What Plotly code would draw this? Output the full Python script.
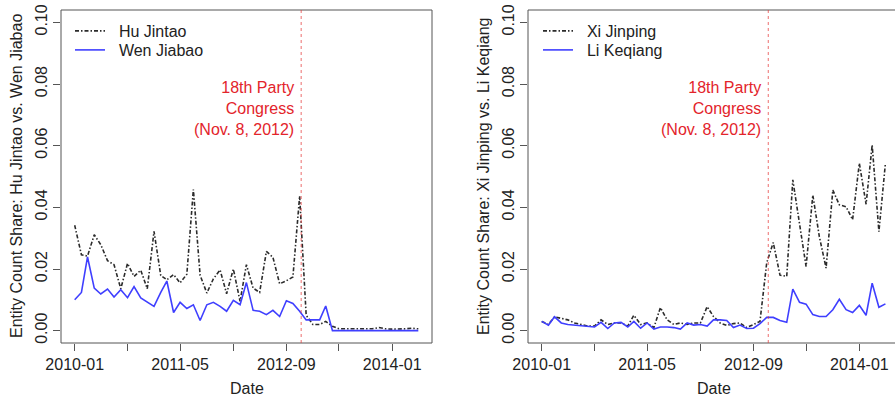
import pandas as pd
import plotly.graph_objects as go

# ---------------- data ----------------
dates = pd.date_range("2010-01-01", periods=53, freq="MS")

hu_jintao = [0.0342, 0.0246, 0.0242, 0.0311, 0.0279, 0.0227, 0.0214, 0.0136, 0.0218, 0.0176,
             0.0196, 0.0136, 0.0322, 0.0179, 0.0165, 0.0182, 0.0155, 0.0183, 0.0458, 0.0180,
             0.0122, 0.0168, 0.0197, 0.0120, 0.0200, 0.0095, 0.0214, 0.0138, 0.0124, 0.0257,
             0.0238, 0.0152, 0.0162, 0.0174, 0.0437, 0.0050, 0.0020, 0.0020, 0.0030, 0.0014,
             0.0006, 0.0006, 0.0006, 0.0005, 0.0005, 0.0006, 0.0010, 0.0006, 0.0005, 0.0005,
             0.0006, 0.0008, 0.0006]
wen_jiabao = [0.0100, 0.0124, 0.0239, 0.0138, 0.0119, 0.0135, 0.0109, 0.0133, 0.0107, 0.0143,
              0.0106, 0.0092, 0.0079, 0.0124, 0.0161, 0.0059, 0.0092, 0.0072, 0.0084, 0.0033,
              0.0084, 0.0092, 0.0079, 0.0063, 0.0098, 0.0084, 0.0156, 0.0066, 0.0063, 0.0052,
              0.0066, 0.0046, 0.0097, 0.0088, 0.0063, 0.0035, 0.0035, 0.0035, 0.0080, 0.0000,
              0.0000, 0.0000, 0.0000, 0.0000, 0.0000, 0.0000, 0.0000, 0.0000, 0.0000, 0.0000,
              0.0000, 0.0000, 0.0000]
xi_jinping = [0.0030, 0.0020, 0.0045, 0.0040, 0.0035, 0.0025, 0.0020, 0.0015, 0.0015, 0.0035,
              0.0020, 0.0025, 0.0025, 0.0015, 0.0050, 0.0020, 0.0025, 0.0010, 0.0075, 0.0035,
              0.0020, 0.0025, 0.0020, 0.0025, 0.0025, 0.0078, 0.0046, 0.0025, 0.0017, 0.0023,
              0.0025, 0.0010, 0.0020, 0.0030, 0.0220, 0.0286, 0.0180, 0.0176, 0.0489, 0.0350,
              0.0208, 0.0440, 0.0305, 0.0203, 0.0456, 0.0408, 0.0402, 0.0360, 0.0543, 0.0410,
              0.0602, 0.0321, 0.0543]
li_keqiang = [0.0030, 0.0018, 0.0045, 0.0025, 0.0020, 0.0018, 0.0016, 0.0012, 0.0012, 0.0027,
              0.0007, 0.0025, 0.0027, 0.0012, 0.0030, 0.0008, 0.0025, 0.0005, 0.0012, 0.0012,
              0.0010, 0.0005, 0.0025, 0.0018, 0.0020, 0.0015, 0.0035, 0.0035, 0.0033, 0.0010,
              0.0018, 0.0007, 0.0008, 0.0023, 0.0043, 0.0043, 0.0033, 0.0027, 0.0135, 0.0092,
              0.0086, 0.0052, 0.0046, 0.0046, 0.0068, 0.0102, 0.0068, 0.0059, 0.0082, 0.0050,
              0.0154, 0.0076, 0.0087]

congress_date = "2012-11-08"
congress_text = "18th Party<br>Congress<br>(Nov. 8, 2012)"
tick_dates = ["2010-01-01", "2010-09-01", "2011-05-01", "2012-01-01",
              "2012-09-01", "2013-05-01", "2014-01-01"]
tick_labels = ["2010-01", "", "2011-05", "", "2012-09", "", "2014-01"]
y_ticks = [0.00, 0.02, 0.04, 0.06, 0.08, 0.10]

# ---------------- style ----------------
W, H = 895, 397
FONT = "Liberation Sans, Arial, Helvetica, sans-serif"
BLACK = "#2b2b2b"
BLUE = "#3f3fff"
RED = "#e3242b"
AX = "#555555"
DASH = "4px,2px,1.5px,2px"
NB = "\u00a0\u00a0"

def px_x(p):
    return p / W

def px_y(p):
    return 1 - p / H

fig = go.Figure()

series = [
    ("Hu Jintao", hu_jintao, BLACK, DASH, "x", "y", "legend"),
    ("Wen Jiabao", wen_jiabao, BLUE, "solid", "x", "y", "legend2"),
    ("Xi Jinping", xi_jinping, BLACK, DASH, "x2", "y2", "legend3"),
    ("Li Keqiang", li_keqiang, BLUE, "solid", "x2", "y2", "legend4"),
]
for name, vals, col, dash, xa, ya, lg in series:
    fig.add_trace(go.Scatter(x=dates, y=vals, mode="lines", name=NB + name,
                             line=dict(color=col, width=1.6, dash=dash),
                             xaxis=xa, yaxis=ya, legend=lg))

x_start = dates[0] - pd.DateOffset(days=63)
x_end_left = dates[-1] + pd.DateOffset(days=63)
x_end_right = dates[-1] + pd.DateOffset(days=44)

ydom = [px_y(343), px_y(10)]
common_x = dict(type="date", tickmode="array", tickvals=tick_dates, ticktext=tick_labels,
                ticks="outside", ticklen=7, tickcolor=AX, tickwidth=1, automargin=False,
                showgrid=False, zeroline=False, showline=False,
                tickfont=dict(size=16, color="#222", family=FONT))
common_y = dict(range=[-0.004, 0.104], tickmode="array", tickvals=y_ticks, automargin=False,
                tickformat=".2f", ticks="outside", ticklen=7, tickcolor=AX, tickwidth=1,
                tickangle=-90, showgrid=False, zeroline=False, showline=False,
                tickfont=dict(size=16, color="#222", family=FONT), domain=ydom)

def leg(xp, yp):
    return dict(x=px_x(xp), y=px_y(yp), xanchor="left", yanchor="top",
                bgcolor="rgba(0,0,0,0)", font=dict(size=16, color="#222"),
                tracegroupgap=0, itemwidth=30)

fig.update_layout(
    width=W, height=H,
    margin=dict(l=0, r=0, t=0, b=0, autoexpand=False),
    paper_bgcolor="white", plot_bgcolor="white",
    font=dict(family=FONT, size=16, color="#222"),
    xaxis=dict(domain=[px_x(61), px_x(432)], range=[x_start, x_end_left], anchor="y", **common_x),
    yaxis=dict(anchor="x", **common_y),
    xaxis2=dict(domain=[px_x(528), 1.0], range=[x_start, x_end_right], anchor="y2", **common_x),
    yaxis2=dict(anchor="x2", **common_y),
    legend=leg(70, 14),
    legend2=leg(70, 33),
    legend3=leg(538, 14),
    legend4=leg(538, 33),
    showlegend=True,
)

shapes = []
shapes.append(dict(type="rect", xref="paper", yref="paper", x0=px_x(61), x1=px_x(432),
                   y0=px_y(343), y1=px_y(10), line=dict(color=AX, width=1)))
shapes.append(dict(type="rect", xref="paper", yref="paper", x0=px_x(528), x1=px_x(899),
                   y0=px_y(343), y1=px_y(10), line=dict(color=AX, width=1)))
for xr in ("x", "x2"):
    shapes.append(dict(type="line", xref=xr, yref="paper", x0=congress_date, x1=congress_date,
                       y0=px_y(343), y1=px_y(10),
                       line=dict(color="rgba(230,60,60,0.75)", width=1, dash="dot")))
fig.update_layout(shapes=shapes)

annos = []
for xr in ("x", "x2"):
    annos.append(dict(x=congress_date, xref=xr, y=px_y(108), yref="paper",
                      text=congress_text, showarrow=False, xanchor="right", yanchor="middle",
                      align="right", xshift=-5, font=dict(size=16, color=RED)))
for xc in ((px_x(61) + px_x(432)) / 2, (px_x(528) + px_x(899)) / 2):
    annos.append(dict(x=xc, y=px_y(388), xref="paper", yref="paper",
                      text="Date", showarrow=False, xanchor="center", yanchor="middle",
                      font=dict(size=16, color="#222")))
annos.append(dict(x=px_x(16), y=px_y(176), xref="paper", yref="paper",
                  text="Entity Count Share: Hu Jintao vs. Wen Jiabao", showarrow=False,
                  textangle=-90, xanchor="center", yanchor="middle",
                  font=dict(size=16, color="#222")))
annos.append(dict(x=px_x(483), y=px_y(176), xref="paper", yref="paper",
                  text="Entity Count Share: Xi Jinping vs. Li Keqiang", showarrow=False,
                  textangle=-90, xanchor="center", yanchor="middle",
                  font=dict(size=16, color="#222")))
fig.update_layout(annotations=annos)

fig.write_html("out.html", config={"displayModeBar": False},
               post_script="document.body.style.margin='0px';document.body.style.overflow='hidden';")
